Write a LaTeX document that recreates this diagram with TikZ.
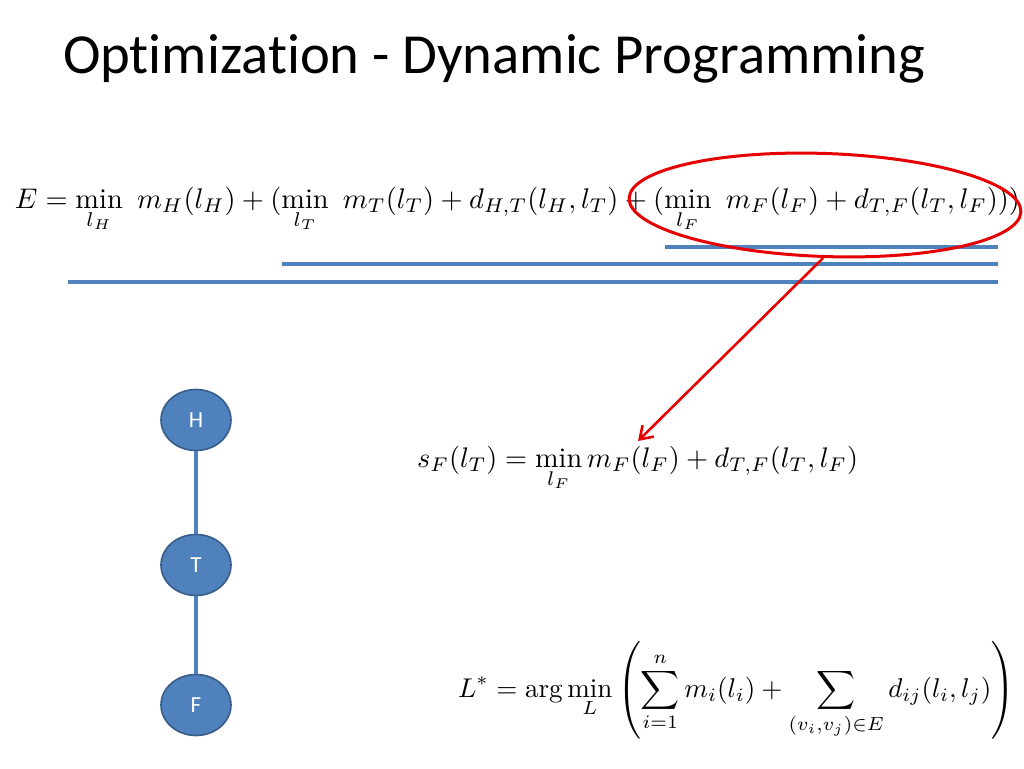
\documentclass[tikz,border=0pt]{standalone}
\usepackage{amsmath}
\usepackage{graphicx}
\usepackage{fontspec}
\newfontfamily\slidefont[Ligatures=NoCommon]{Carlito}
\usetikzlibrary{shapes.geometric,arrows.meta}
\definecolor{offblue}{RGB}{79,129,189}
\definecolor{offblueedge}{RGB}{56,93,138}
\definecolor{annred}{RGB}{230,0,0}
\tikzset{
  vnode/.style={ellipse, draw=offblueedge, line width=1.6pt, fill=offblue,
    minimum width=70pt, minimum height=61pt, inner sep=0pt,
    text=white, font=\slidefont\fontsize{23}{26}\selectfont},
  vedge/.style={draw=offblue, line width=3.2pt},
  bar/.style={draw=offblue, line width=3.2pt},
  ann/.style={draw=annred, line width=3pt},
  eqn/.style={inner sep=0pt, outer sep=0pt, anchor=base west}
}
\begin{document}
\begin{tikzpicture}[x=1pt,y=-1pt]
\useasboundingbox (0,0) rectangle (1024,768);
\fill[white] (0,0) rectangle (1024,768);

% title
\node[eqn] (title) at (63,73) {\resizebox{862pt}{!}{\slidefont\fontsize{57}{64}\selectfont Optimization - Dynamic Programming}};

% main equation
\node[eqn] (eqE) at (15,208) {\resizebox{1005pt}{!}{$\displaystyle E = \min_{l_H}\ m_H(l_H) + (\min_{l_T}\ m_T(l_T) + d_{H,T}(l_H,l_T) + (\min_{l_F}\ m_F(l_F) + d_{T,F}(l_T,l_F)))$}};

% bars
\coordinate (b1a) at (665,247); \coordinate (b1b) at (998,247);
\coordinate (b2a) at (282,264); \coordinate (b2b) at (998,264);
\coordinate (b3a) at (68,282);  \coordinate (b3b) at (998,282);
\draw[bar] (b1a) -- (b1b);
\draw[bar] (b2a) -- (b2b);
\draw[bar] (b3a) -- (b3b);

% annotation ellipse and arrow
\node[ellipse, ann, minimum width=392pt, minimum height=103pt, rotate=-2] (ring) at (825,205) {};
\coordinate (tip) at (638,441);
\draw[ann, line width=2.6pt, -{Straight Barb[length=12pt,width=16pt,line width=2.6pt]}] (ring.south) -- (tip);

% second equation
\node[eqn] (eqS) at (417,467) {\resizebox{441pt}{!}{$\displaystyle s_F(l_T) = \min_{l_F} m_F(l_F) + d_{T,F}(l_T,l_F)$}};

% third equation
\node[eqn] (eqL) at (458,697) {\resizebox{557pt}{!}{$\displaystyle L^* = \arg\min_{L}\left(\sum_{i=1}^{n} m_i(l_i) + \sum_{(v_i,v_j)\in E} d_{ij}(l_i,l_j)\right)$}};

% graph
\node[vnode] (H) at (196,420) {H};
\node[vnode] (T) at (196,565) {T};
\node[vnode] (F) at (196,705) {F};
\draw[vedge] (H) -- (T);
\draw[vedge] (T) -- (F);
\end{tikzpicture}
\end{document}
